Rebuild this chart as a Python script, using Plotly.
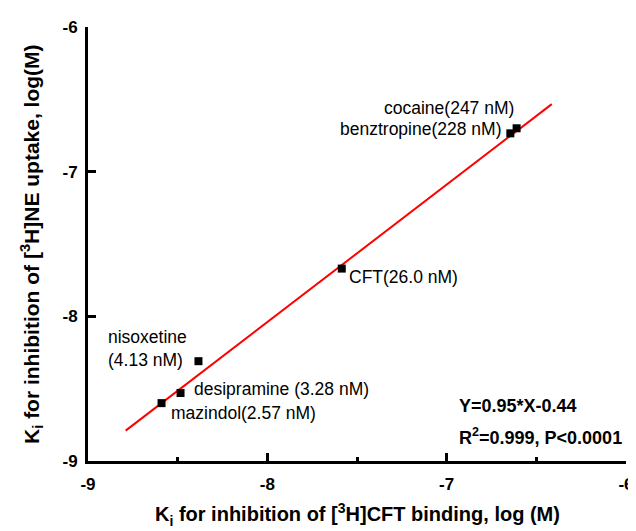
import plotly.graph_objects as go

# Ki values, log(M): x = [3H]CFT binding, y = [3H]NE uptake
drugs = ['cocaine', 'benztropine', 'CFT', 'nisoxetine', 'desipramine', 'mazindol']
point_labels = ['cocaine(247 nM)', 'benztropine(228 nM)', 'CFT(26.0 nM)',
                'nisoxetine<br>(4.13 nM)', 'desipramine (3.28 nM)', 'mazindol(2.57 nM)']
ki_cft = [-6.61, -6.645, -7.585, -8.384, -8.484, -8.59]
ki_ne = [-6.70, -6.735, -7.67, -8.31, -8.53, -8.60]

# regression line Y = 0.95*X - 0.44
fit_x = [-8.79, -6.414]
fit_y = [-8.79, -6.533]

x_ticks = [-9, -8, -7, -6]
y_ticks = [-9, -8, -7, -6]

FONT = 'Liberation Sans, Arial, sans-serif'

fig = go.Figure()

fig.add_trace(go.Scatter(
    x=fit_x, y=fit_y, mode='lines',
    line=dict(color='#ff0000', width=2),
    hoverinfo='skip', showlegend=False,
))

fig.add_trace(go.Scatter(
    x=ki_cft, y=ki_ne, mode='markers',
    marker=dict(symbol='square', size=8, color='black'),
    text=drugs, showlegend=False,
))

# label placement per point: (xanchor, xshift, yshift)
label_pos = {
    'cocaine': ('right', -1, 20),
    'benztropine': ('right', -7, 4),
    'CFT': ('left', 5, -8),
    'nisoxetine': ('right', -9, 13),
    'desipramine': ('left', 11, 4),
    'mazindol': ('left', 7, -10),
}
for name, lbl, x, y in zip(drugs, point_labels, ki_cft, ki_ne):
    anchor, xs, ys = label_pos[name]
    fig.add_annotation(
        x=x, y=y, text=lbl, showarrow=False,
        xanchor=anchor, yanchor='middle', align='left',
        xshift=xs, yshift=ys,
        font=dict(family=FONT, size=17.5, color='black'),
    )

fig.add_annotation(
    x=0.685, y=0.127, xref='paper', yref='paper',
    text='<b>Y=0.95*X-0.44</b>', showarrow=False,
    xanchor='left', yanchor='middle',
    font=dict(family=FONT, size=18, color='black'),
)
fig.add_annotation(
    x=0.685, y=0.057, xref='paper', yref='paper',
    text='<b>R<sup>2</sup>=0.999, P<0.0001</b>', showarrow=False,
    xanchor='left', yanchor='middle',
    font=dict(family=FONT, size=18, color='black'),
)

# axis titles
fig.add_annotation(
    x=0.5, y=-0.124, xref='paper', yref='paper',
    text='<b>K<sub>i</sub> for inhibition of [<sup>3</sup>H]CFT binding, log (M)</b>',
    showarrow=False, xanchor='center', yanchor='middle',
    font=dict(family=FONT, size=20, color='black'),
)
fig.add_annotation(
    x=-0.106, y=0.5, xref='paper', yref='paper',
    text='<b>K<sub>i</sub> for inhibition of [<sup>3</sup>H]NE uptake, log(M)</b>',
    showarrow=False, textangle=-90, xanchor='center', yanchor='middle',
    font=dict(family=FONT, size=21, color='black'),
)

fig.update_layout(
    width=636,
    height=531,
    paper_bgcolor='white',
    plot_bgcolor='white',
    margin=dict(l=80, r=10, t=13, b=78),
    showlegend=False,
    xaxis=dict(
        range=[-9, -6],
        tickvals=x_ticks,
        ticktext=[str(v) for v in x_ticks],
        showgrid=False, zeroline=False,
        showline=True, linecolor='black', linewidth=3,
        ticks='inside', ticklen=8, tickwidth=3, tickcolor='black',
        ticklabelstandoff=6,
        minor=dict(tickvals=[-8.5, -7.5, -6.5], ticks='inside', ticklen=4,
                   tickwidth=3, tickcolor='black', showgrid=False),
        tickfont=dict(family=FONT, size=17, color='black', weight='bold'),
    ),
    yaxis=dict(
        range=[-9, -6],
        tickvals=y_ticks,
        ticktext=[str(v) for v in y_ticks],
        showgrid=False, zeroline=False,
        showline=True, linecolor='black', linewidth=3,
        ticks='inside', ticklen=8, tickwidth=3, tickcolor='black',
        ticklabelstandoff=4,
        tickfont=dict(family=FONT, size=17, color='black', weight='bold'),
    ),
)

fig.write_html('out.html')
